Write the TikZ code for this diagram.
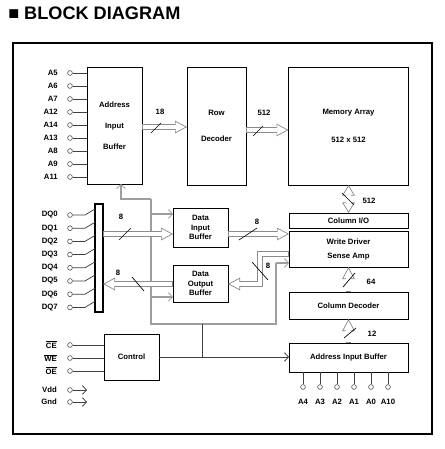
\documentclass[tikz,border=0pt]{standalone}
\usepackage{fontspec}
\setmainfont{Liberation Sans}
\usetikzlibrary{arrows.meta, positioning}

\begin{document}
\begin{tikzpicture}[
  x=0.75pt, y=-0.75pt,
  font=\fontsize{5.8}{7}\selectfont\bfseries,
  blk/.style={draw, line width=0.7pt, inner sep=0pt, outer sep=0pt, align=center},
  lbl/.style={inner sep=0pt},
  pin/.style={circle, draw=black!70, line width=0.45pt, inner sep=0pt, minimum size=3.6pt, fill=white},
  wire/.style={draw=black!75, line width=0.55pt},
  ctl/.style={draw=black!38, line width=1.1pt},
  arr/.style={-{Straight Barb[length=3pt, width=6.5pt, line width=0.6pt]}},
  bus/.style={draw=black!45, line width=4.4pt,
    -{Triangle[open, length=9pt, width=9.5pt, line width=0.55pt, fill=white]},
    postaction={draw=white, line width=3.2pt, -, shorten >=8.6pt, shorten <=0.4pt}},
  dbus/.style={draw=black!45, line width=4.4pt,
    {Triangle[open, length=8pt, width=9.5pt, line width=0.55pt, fill=white]}-{Triangle[open, length=8pt, width=9.5pt, line width=0.55pt, fill=white]},
    postaction={draw=white, line width=3.2pt, -, shorten >=7.6pt, shorten <=7.6pt}},
  sl/.style={draw, line width=0.5pt}
]
\useasboundingbox (0,0) rectangle (444,449);

% title and frame
\node[anchor=base west, inner sep=0pt, font=\fontsize{13.6}{16}\selectfont\bfseries] (ttl) at (8,20) {■ BLOCK DIAGRAM};
\draw[line width=1.5pt] (13,43) rectangle (432,434);

% blocks
\node[blk, minimum width=41.25pt, minimum height=87.75pt] (aibL) at (114.5,125.5) {Address\\[8.6pt]Input\\[8.6pt]Buffer};
\node[blk, minimum width=44.25pt, minimum height=88.5pt] (rowdec) at (216.5,126) {Row\\[12.3pt]Decoder};
\node[blk, minimum width=90pt, minimum height=88.5pt] (memarr) at (348.5,126) {Memory Array\\[14.5pt]512 x 512};
\node[blk, minimum width=89.25pt, minimum height=11.25pt] (colio) at (348.5,220.5) {Column I/O};
\node[blk, minimum width=89.25pt, minimum height=27pt] (wdrv) at (348.5,249) {Write Driver\\[3.5pt]Sense Amp};
\node[blk, minimum width=89.25pt, minimum height=20.25pt] (coldec) at (348.5,305.5) {Column Decoder};
\node[blk, minimum width=89.25pt, minimum height=21.75pt] (aibB) at (348.5,357.5) {Address Input Buffer};
\node[blk, minimum width=41.25pt, minimum height=29.25pt] (dib) at (200.5,227.5) {Data\\Input\\Buffer};
\node[blk, minimum width=41.25pt, minimum height=27.75pt] (dob) at (200.5,283.5) {Data\\Output\\Buffer};
\node[blk, minimum width=41.25pt, minimum height=34.5pt] (ctrl) at (131.5,357) {Control};
\node[blk, fill=white, line width=0.8pt, minimum width=6pt, minimum height=81pt] (dqbar) at (99,258) {};

% address pins
\foreach \nm [count=\i] in {A5,A6,A7,A12,A14,A13,A8,A9,A11} {
  \node[pin] (pa\i) at (70,60+13*\i) {};
  \node[lbl, anchor=east] (la\i) at (58,60+13*\i) {\nm};
  \draw[wire] (pa\i) -- (pa\i -| aibL.west);
}

% data pins
\foreach \i in {0,...,7} {
  \node[pin] (pd\i) at (70,215+13.2*\i) {};
  \node[lbl, anchor=east] (ld\i) at (58,215+13.2*\i) {DQ\i};
  \draw[wire] (pd\i) -- ++(15,0) -- ([yshift=4.5pt]pd\i -| dqbar.west);
}

% control pins
\foreach \nm [count=\i] in {CE,WE,OE} {
  \node[pin] (pc\i) at (70,332+13*\i) {};
  \node[lbl, anchor=east] (lc\i) at (57,332+13*\i) {$\overline{\hbox{\nm}}$};
  \draw[wire] (pc\i) -- (pc\i -| ctrl.west);
}
\foreach \nm/\yy [count=\i] in {Vdd/390,Gnd/402} {
  \node[pin] (pp\i) at (70,\yy) {};
  \node[lbl, anchor=east] (lp\i) at (57,\yy) {\nm};
  \coordinate (pe\i) at (87,\yy);
  \draw[wire, arr] (pp\i) -- (pe\i);
}

% column address pins
\foreach \nm [count=\i] in {A4,A3,A2,A1,A0,A10} {
  \node[pin] (pb\i) at (286+17*\i,387) {};
  \node[lbl] (lb\i) at (286+17*\i,402) {\nm};
  \draw[wire] (pb\i) -- (pb\i |- aibB.south);
}

% control bus
\coordinate (bTL) at (151,199);
\coordinate (bBL) at (151,324);
\coordinate (bBR) at (276,324);
\coordinate (bTR) at (276,263);
\coordinate (bA) at (121,199);
\coordinate (bDI) at (151,214);
\coordinate (bDO) at (151,297);
\coordinate (jn) at (202,324);
\draw[ctl] (bTR) -- (bBR) -- (bBL) -- (bTL);
\draw[ctl, arr] (bTL) -- (bA) -- (bA |- aibL.south);
\draw[ctl, arr] (bDI) -- (bDI -| dib.west);
\draw[ctl, arr] (bDO) -- (bDO -| dob.west);
\draw[ctl, arr] (bTR) -- (bTR -| wdrv.west);
\draw[wire, arr] (ctrl.east) -- (ctrl.east -| aibB.west);
\draw[wire] (jn) -- (jn |- ctrl.east);

% data buses
\coordinate (r18) at (165,127);
\coordinate (r512) at (268,130);
\coordinate (din) at (200,234);
\coordinate (dout) at (200,284);
\coordinate (wo1) at (260,254);
\coordinate (wo2) at (260,284);
\draw[bus] (r18 -| aibL.east) -- (r18 -| rowdec.west);
\draw[bus] (r512 -| rowdec.east) -- (r512 -| memarr.west);
\draw[dbus] (memarr.south) -- (colio.north);
\draw[bus] (coldec.north) -- (wdrv.south);
\draw[bus] (aibB.north) -- (coldec.south);
\draw[bus] (din -| dqbar.east) -- (din -| dib.west);
\draw[bus] (dout -| dob.west) -- (dout -| dqbar.east);
\draw[bus] (din -| dib.east) -- (din -| wdrv.west);
\draw[bus] (wo1 -| wdrv.west) -- (wo1) -- (wo2) -- (wo2 -| dob.east);

% bus widths
\foreach \s/\x/\y/\dx/\dy in {s18/156/128/5/5, s512a/258/131/5/5, s512b/348/199/-6/6,
    s64/349/280/6/7, s12/350/333/6/5, s8a/125/234/6/6, s8b/138/284/-6/7,
    s8c/248/234/9/6, s8d/260/271/-8/9} {
  \coordinate (\s) at (\x,\y);
  \draw[sl] (\s) +(-\dx,\dy) -- +(\dx,-\dy);
}
\node[lbl] (n18) at (160,112) {18};
\node[lbl] (n512a) at (264,113) {512};
\node[lbl] (n512b) at (369,201) {512};
\node[lbl] (n64) at (371,282) {64};
\node[lbl] (n12) at (372,334) {12};
\node[lbl] (n8a) at (121,217) {8};
\node[lbl] (n8b) at (118,273) {8};
\node[lbl] (n8c) at (257,222) {8};
\node[lbl] (n8d) at (268,266) {8};

\end{tikzpicture}
\end{document}
